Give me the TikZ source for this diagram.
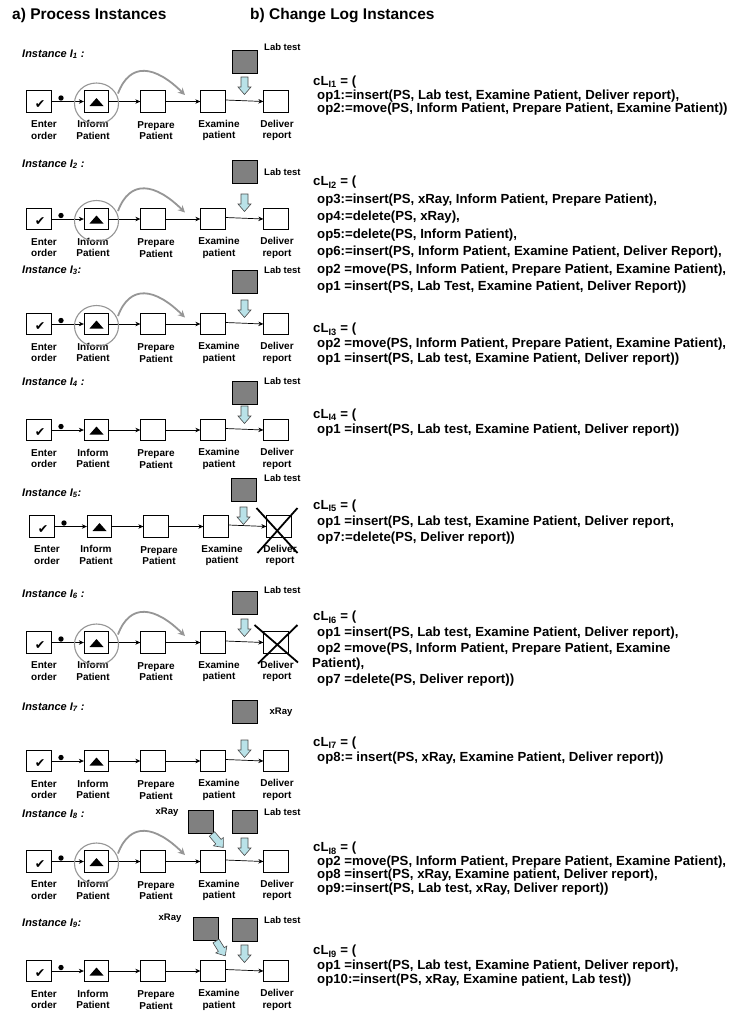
\documentclass[tikz,border=0pt]{standalone}
\usepackage{fontspec}
\setmainfont{Liberation Sans}
\newfontfamily\djv{DejaVu Sans}
\usetikzlibrary{arrows.meta,calc}
\definecolor{labgray}{RGB}{128,128,128}
\definecolor{arrblue}{RGB}{185,226,232}
\definecolor{curvegray}{RGB}{150,150,150}
\tikzset{
  act/.style={draw, line width=0.8pt, minimum width=24.5pt, minimum height=21.5pt, inner sep=0pt, fill=white},
  lbl/.style={font=\bfseries\fontsize{10}{11.6}\selectfont, align=center, inner sep=0pt},
  flow/.style={-{Stealth[length=5pt,width=4.5pt]}, line width=0.7pt},
  labbox/.style={draw, line width=0.8pt, fill=labgray, minimum width=25pt, minimum height=23pt, inner sep=0pt},
  barr/.style={draw=black!70, line width=0.6pt, fill=arrblue},
  circ/.style={draw=curvegray, line width=1.1pt},
  gcurve/.style={draw=curvegray, line width=1.8pt, -{Stealth[length=7pt,width=7pt]}},
  crossline/.style={line width=1.8pt},
  inst/.style={font=\bfseries\itshape\fontsize{11}{13}\selectfont, inner sep=0pt, anchor=base west},
  smalltxt/.style={font=\bfseries\fontsize{9.5}{11}\selectfont, inner sep=0pt},
  rt/.style={font=\bfseries\fontsize{13.2}{15}\selectfont, inner sep=0pt, anchor=base west},
  ttl/.style={font=\bfseries\fontsize{15.5}{18}\selectfont, inner sep=0pt, anchor=base west},
}
% #1 id, #2 yc, #3 dx
\newcommand\proc[3]{%
  \node[act] (E#1) at (39+#3,#2) {};
  \node[act] (F#1) at (96.5+#3,#2) {};
  \node[act] (P#1) at (153+#3,#2) {};
  \node[act] (X#1) at (213+#3,#2) {};
  \node[act] (D#1) at (276+#3,#2) {};
  \node[font=\djv\fontsize{12.5}{12.5}\selectfont, inner sep=0pt] (ck#1) at (40+#3,#2+3) {✔};
  \fill ($(F#1)+(-7,4.5)$) -- ($(F#1)+(7,4.5)$) -- ($(F#1)+(0,-3.5)$) -- cycle;
  \node[lbl] (lE#1) at (44+#3,#2+28.5) {Enter\\order};
  \node[lbl] (lF#1) at (93+#3,#2+28.5) {Inform\\Patient};
  \node[lbl] (lP#1) at (156+#3,#2+29) {Prepare\\Patient};
  \node[lbl] (lX#1) at (219+#3,#2+29) {Examine\\patient};
  \node[lbl] (lD#1) at (277+#3,#2+29) {Deliver\\report};
  \draw[flow] (E#1) -- (F#1);
  \draw[flow] (F#1) -- (P#1);
  \draw[flow] (P#1) -- (X#1);
  \draw[flow] ($(X#1.east)+(0,-1.5)$) -- (D#1.west);
  \fill (61+#3,#2-3.5) circle[radius=2.7pt];
}
% circle + move curve
\newcommand\movecurve[1]{%
  \draw[circ] ($(F#1)+(0,2)$) ellipse[x radius=22pt, y radius=20.5pt];
  \coordinate (cs#1) at ($(F#1)+(21.5,-8)$);
  \coordinate (ce#1) at ($(F#1)+(88.5,-6.5)$);
  \draw[gcurve] (cs#1) .. controls ($(F#1)+(33.5,-40)$) and ($(F#1)+(58.5,-36)$) .. (ce#1);
}
% block arrow: x, y, angle
\newcommand\barrow[3]{%
  \begin{scope}[shift={(#1,#2)}, rotate=#3]
    \draw[barr] (-3.5,0) -- (3.5,0) -- (3.5,10) -- (6.5,10) -- (0,17.5) -- (-6.5,10) -- (-3.5,10) -- cycle;
  \end{scope}
}
\begin{document}
\begin{tikzpicture}[x=1pt,y=-1pt]
\useasboundingbox (0,0) rectangle (731,1013);
\fill[white] (0,0) rectangle (731,1013);

\node[ttl] (ta) at (12,19) {a) Process Instances};
\node[ttl] (tb) at (250,19) {b) Change Log Instances};

% ---------- Instance 1
\node[inst] (N1) at (22,57) {Instance I\textsubscript{1} :};
\proc{1}{101.5}{0}
\movecurve{1}
\node[labbox] (L1) at (244.5,61.5) {};
\barrow{244.5}{77}{0}
\node[smalltxt, anchor=west] (T1) at (264,47) {Lab test};

% ---------- Instance 2
\node[inst] (N2) at (22,167) {Instance I\textsubscript{2} :};
\proc{2}{219}{0}
\movecurve{2}
\node[labbox] (L2) at (244.5,171.5) {};
\barrow{244.5}{194}{0}
\node[smalltxt, anchor=west] (T2) at (264,172) {Lab test};

% ---------- Instance 3
\node[inst] (N3) at (22,273) {Instance I\textsubscript{3}:};
\proc{3}{324}{0}
\movecurve{3}
\node[labbox] (L3) at (244.5,281.5) {};
\barrow{244.5}{300}{0}
\node[smalltxt, anchor=west] (T3) at (264,270) {Lab test};

% ---------- Instance 4
\node[inst] (N4) at (22,385) {Instance I\textsubscript{4} :};
\proc{4}{430}{0}
\node[labbox] (L4) at (244.5,392.5) {};
\barrow{244.5}{406}{0}
\node[smalltxt, anchor=west] (T4) at (264,381) {Lab test};

% ---------- Instance 5
\node[inst] (N5) at (22,496) {Instance I\textsubscript{5}:};
\proc{5}{526.5}{3}
\node[labbox] (L5) at (243.5,490) {};
\barrow{243.5}{507}{0}
\node[smalltxt, anchor=west] (T5) at (264,478) {Lab test};
\draw[crossline] ($(D5)+(-22.5,-18.5)$) -- ($(D5)+(18.5,26.5)$);
\draw[crossline] ($(D5)+(18.5,-18.5)$) -- ($(D5)+(-21.5,26.5)$);

% ---------- Instance 6
\node[inst] (N6) at (22,597) {Instance I\textsubscript{6} :};
\proc{6}{642.5}{0}
\movecurve{6}
\node[labbox] (L6) at (244.5,602.5) {};
\barrow{244.5}{619}{0}
\node[smalltxt, anchor=west] (T6) at (264,590) {Lab test};
\draw[crossline] ($(D6)+(-21.5,-17.5)$) -- ($(D6)+(22,20)$);
\draw[crossline] ($(D6)+(21.5,-17.5)$) -- ($(D6)+(-18,21)$);

% ---------- Instance 7
\node[inst] (N7) at (22,710) {Instance I\textsubscript{7} :};
\proc{7}{761}{0}
\node[labbox] (L7) at (244.5,712) {};
\barrow{244.5}{740}{0}
\node[smalltxt] (T7) at (281,712) {xRay};

% ---------- Instance 8
\node[inst] (N8) at (22,817) {Instance I\textsubscript{8} :};
\proc{8}{861.5}{0}
\movecurve{8}
\node[labbox] (R8) at (200.5,821.5) {};
\node[labbox] (L8) at (244.5,821.5) {};
\barrow{212}{834}{40}
\barrow{244.5}{838}{0}
\node[smalltxt] (S8) at (167,812) {xRay};
\node[smalltxt, anchor=west] (T8) at (264,812) {Lab test};

% ---------- Instance 9
\node[inst] (N9) at (22,926) {Instance I\textsubscript{9}:};
\proc{9}{971}{0}
\node[labbox] (R9) at (205.5,928.5) {};
\node[labbox] (L9) at (244.5,930) {};
\barrow{216}{941}{32}
\barrow{244.5}{945}{0}
\node[smalltxt] (S9) at (170,918) {xRay};
\node[smalltxt, anchor=west] (T9) at (264,920) {Lab test};

% ---------- Change logs
\node[rt] (c1a) at (313,85.7) {cL\textsubscript{I1} = (};
\node[rt] (c1b) at (317,99.7) {op1:=insert(PS, Lab test, Examine Patient, Deliver report),};
\node[rt] (c1c) at (317,112.7) {op2:=move(PS, Inform Patient, Prepare Patient, Examine Patient))};

\node[rt] (c2a) at (313,185.7) {cL\textsubscript{I2} = (};
\node[rt] (c2b) at (317,203.2) {op3:=insert(PS, xRay, Inform Patient, Prepare Patient),};
\node[rt] (c2c) at (317,220.7) {op4:=delete(PS, xRay),};
\node[rt] (c2d) at (317,238.2) {op5:=delete(PS, Inform Patient),};
\node[rt] (c2e) at (317,255.7) {op6:=insert(PS, Inform Patient, Examine Patient, Deliver Report),};
\node[rt] (c2f) at (317,273.2) {op2 =move(PS, Inform Patient, Prepare Patient, Examine Patient),};
\node[rt] (c2g) at (317,290.7) {op1 =insert(PS, Lab Test, Examine Patient, Deliver Report))};

\node[rt] (c3a) at (313,332.7) {cL\textsubscript{I3} = (};
\node[rt] (c3b) at (317,347.7) {op2 =move(PS, Inform Patient, Prepare Patient, Examine Patient),};
\node[rt] (c3c) at (317,362.7) {op1 =insert(PS, Lab test, Examine Patient, Deliver report))};

\node[rt] (c4a) at (313,418.7) {cL\textsubscript{I4} = (};
\node[rt] (c4b) at (317,433.7) {op1 =insert(PS, Lab test, Examine Patient, Deliver report))};

\node[rt] (c5a) at (313,509.7) {cL\textsubscript{I5} = (};
\node[rt] (c5b) at (317,525.7) {op1 =insert(PS, Lab test, Examine Patient, Deliver report,};
\node[rt] (c5c) at (317,541.7) {op7:=delete(PS, Deliver report))};

\node[rt] (c6a) at (313,620.7) {cL\textsubscript{I6} = (};
\node[rt] (c6b) at (317,636.7) {op1 =insert(PS, Lab test, Examine Patient, Deliver report),};
\node[rt] (c6c) at (317,652.2) {op2 =move(PS, Inform Patient, Prepare Patient, Examine};
\node[rt] (c6d) at (312,667.7) {Patient),};
\node[rt] (c6e) at (317,683.2) {op7 =delete(PS, Deliver report))};

\node[rt] (c7a) at (313,746.7) {cL\textsubscript{I7} = (};
\node[rt] (c7b) at (317,761.7) {op8:= insert(PS, xRay, Examine Patient, Deliver report))};

\node[rt] (c8a) at (313,851.7) {cL\textsubscript{I8} = (};
\node[rt] (c8b) at (317,865.2) {op2 =move(PS, Inform Patient, Prepare Patient, Examine Patient),};
\node[rt] (c8c) at (317,878.7) {op8 =insert(PS, xRay, Examine patient, Deliver report),};
\node[rt] (c8d) at (317,892.2) {op9:=insert(PS, Lab test, xRay, Deliver report))};

\node[rt] (c9a) at (313,954.7) {cL\textsubscript{I9} = (};
\node[rt] (c9b) at (317,969.2) {op1 =insert(PS, Lab test, Examine Patient, Deliver report),};
\node[rt] (c9c) at (317,983.2) {op10:=insert(PS, xRay, Examine patient, Lab test))};
\end{tikzpicture}
\end{document}
